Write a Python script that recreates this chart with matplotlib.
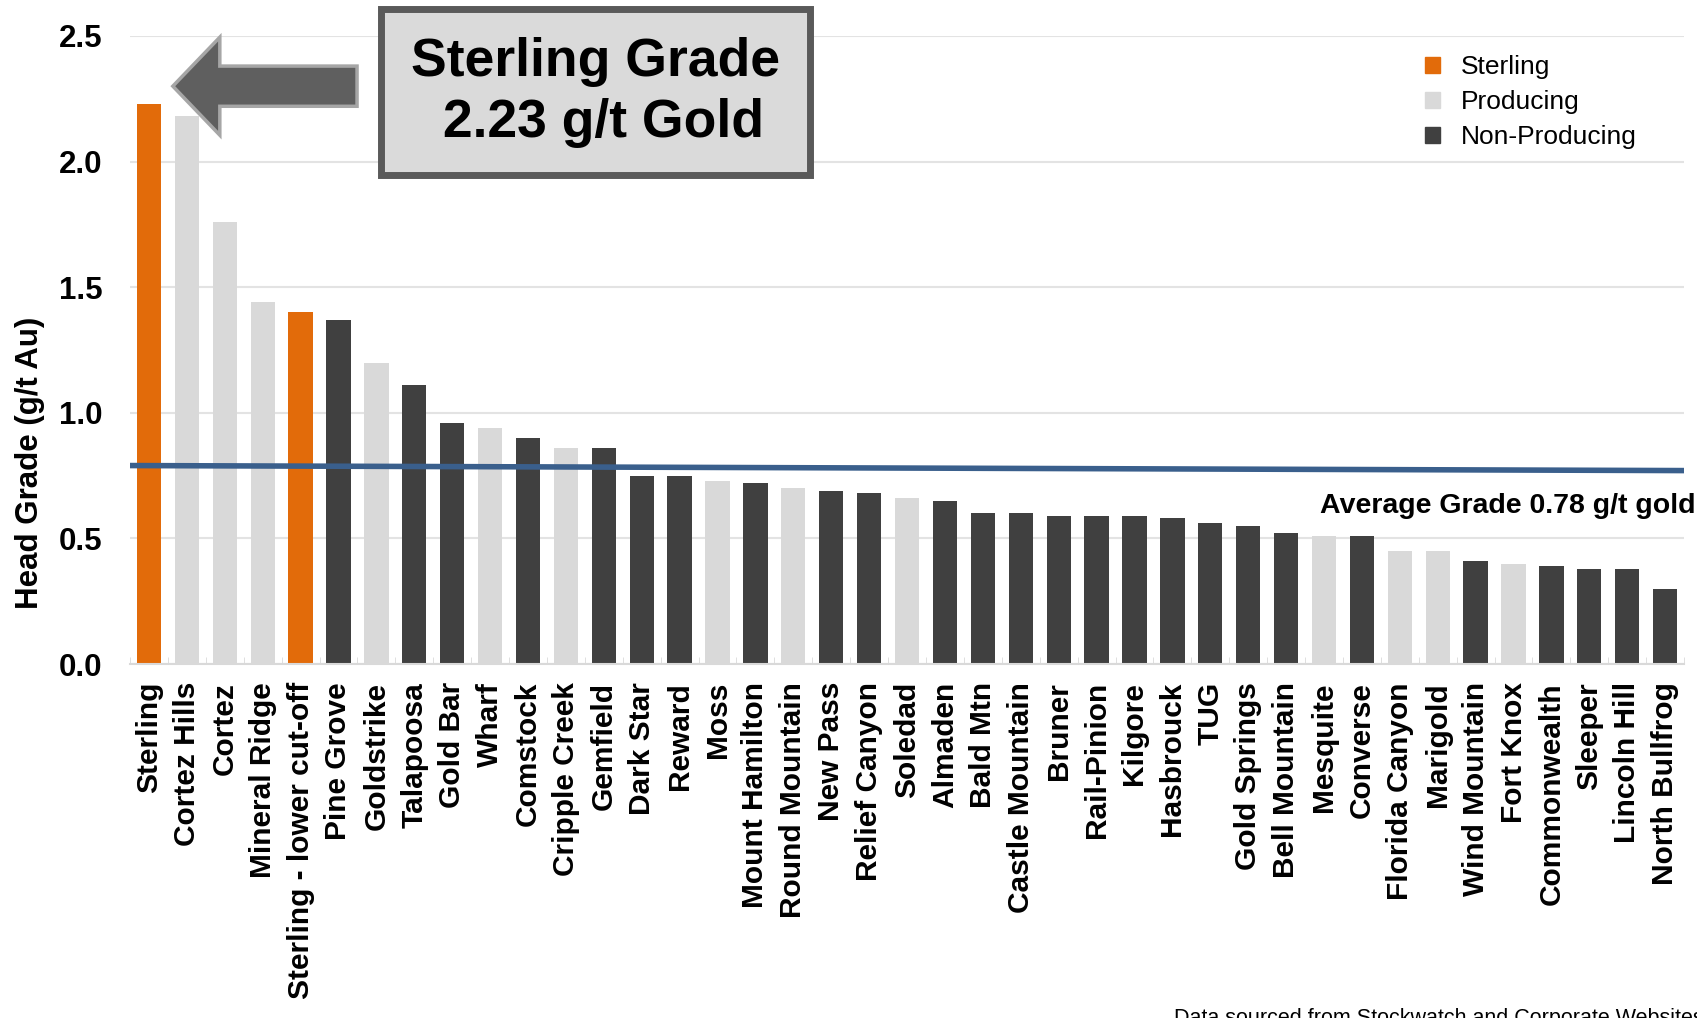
import matplotlib
matplotlib.use('Agg')
import matplotlib.pyplot as plt
from matplotlib.patches import Patch, Rectangle, FancyArrow

plt.rcParams['font.family'] = ['Liberation Sans', 'DejaVu Sans']

mines = ['Sterling', 'Cortez Hills', 'Cortez', 'Mineral Ridge', 'Sterling - lower cut-off',
         'Pine Grove', 'Goldstrike', 'Talapoosa', 'Gold Bar', 'Wharf', 'Comstock',
         'Cripple Creek', 'Gemfield', 'Dark Star', 'Reward', 'Moss', 'Mount Hamilton',
         'Round Mountain', 'New Pass', 'Relief Canyon', 'Soledad', 'Almaden', 'Bald Mtn',
         'Castle Mountain', 'Bruner', 'Rail-Pinion', 'Kilgore', 'Hasbrouck', 'TUG',
         'Gold Springs', 'Bell Mountain', 'Mesquite', 'Converse', 'Florida Canyon',
         'Marigold', 'Wind Mountain', 'Fort Knox', 'Commonwealth', 'Sleeper',
         'Lincoln Hill', 'North Bullfrog']
grades = [2.23, 2.18, 1.76, 1.44, 1.40,
          1.37, 1.20, 1.11, 0.96, 0.94, 0.90,
          0.86, 0.86, 0.75, 0.75, 0.73, 0.72,
          0.70, 0.69, 0.68, 0.66, 0.65, 0.60,
          0.60, 0.59, 0.59, 0.59, 0.58, 0.56,
          0.55, 0.52, 0.51, 0.51, 0.45,
          0.45, 0.41, 0.40, 0.39, 0.38,
          0.38, 0.30]
# S = Sterling, P = Producing, N = Non-Producing
status = ['S', 'P', 'P', 'P', 'S',
          'N', 'P', 'N', 'N', 'P', 'N',
          'P', 'N', 'N', 'N', 'P', 'N',
          'P', 'N', 'N', 'P', 'N', 'N',
          'N', 'N', 'N', 'N', 'N', 'N',
          'N', 'N', 'P', 'N', 'P',
          'P', 'N', 'P', 'N', 'N',
          'N', 'N']
avg_line = [0.79, 0.77]   # drawn average line, left and right end
avg_label = 'Average Grade 0.78 g/t gold'
yticks = [0.0, 0.5, 1.0, 1.5, 2.0, 2.5]

colors = {'S': '#E26B0A', 'P': '#D9D9D9', 'N': '#404040'}
names = {'S': 'Sterling', 'P': 'Producing', 'N': 'Non-Producing'}

fig = plt.figure(figsize=(16.97, 10.18), dpi=100)
ax = fig.add_axes([0.0766, 0.3477, 0.9158, 0.617])

x = list(range(len(mines)))
ax.bar(x, grades, width=0.64, color=[colors[s] for s in status], zorder=2)

n = len(mines)
ax.plot([-0.5, n - 0.5], avg_line, color='#3A5F8C', lw=4, zorder=3, solid_capstyle='butt')
ax.text(n - 0.5 + 0.3, 0.63, avg_label, ha='right', va='center', fontsize=20.5,
        fontweight='bold', zorder=4)

ax.set_xlim(-0.5, n - 0.5)
ax.set_ylim(0, 2.5)
ax.set_yticks(yticks)
ax.set_yticklabels([f'{v:.1f}' for v in yticks], fontsize=22.5, fontweight='bold')
ax.set_xticks(x)
ax.set_xticklabels(mines, rotation=90, fontsize=21.5, fontweight='bold')
ax.set_xticks([i + 0.5 for i in range(-1, n)], minor=True)
ax.tick_params(axis='x', which='major', length=0, pad=13)
ax.tick_params(axis='x', which='minor', length=5, direction='in', color='#D9D9D9')
ax.tick_params(axis='y', length=0, pad=20)
ax.set_ylabel('Head Grade (g/t Au)', fontsize=22.5, fontweight='bold')
ax.yaxis.set_label_coords(-0.0545, 0.32)
ax.grid(axis='y', color='#E3E3E3', lw=1.5, zorder=0)
for side in ['left', 'right', 'top']:
    ax.spines[side].set_visible(False)
ax.spines['bottom'].set_color('#D9D9D9')
ax.spines['bottom'].set_linewidth(1.5)

handles = [Patch(color=colors[k], label=names[k]) for k in ['S', 'P', 'N']]
ax.legend(handles=handles, loc='upper left', bbox_to_anchor=(0.826, 0.969),
          bbox_transform=fig.transFigure, frameon=False, fontsize=19,
          handlelength=0.55, handleheight=0.55, handletextpad=0.8, labelspacing=0.42)

# big callout arrow pointing to the Sterling bar
arrow = FancyArrow(5.49, 2.30, -4.86, 0, width=0.16, head_width=0.39, head_length=1.24,
                   length_includes_head=True, facecolor='#5F5F5F', edgecolor='#A6A6A6',
                   lw=2.5, zorder=5, clip_on=False)
ax.add_patch(arrow)

box = Rectangle((0.2245, 0.828), 0.2528, 0.163, transform=fig.transFigure,
                facecolor='#DADADA', edgecolor='#5A5A5A', lw=5, zorder=6)
fig.add_artist(box)
fig.text(0.351, 0.909, 'Sterling Grade\n 2.23 g/t Gold', ha='center', va='center',
         fontsize=38.5, fontweight='bold', linespacing=1.3, zorder=7)

fig.text(0.692, 0.0095, 'Data sourced from Stockwatch and Corporate Websites',
         ha='left', va='top', fontsize=15.5)

fig.savefig('out.png', dpi=100)
